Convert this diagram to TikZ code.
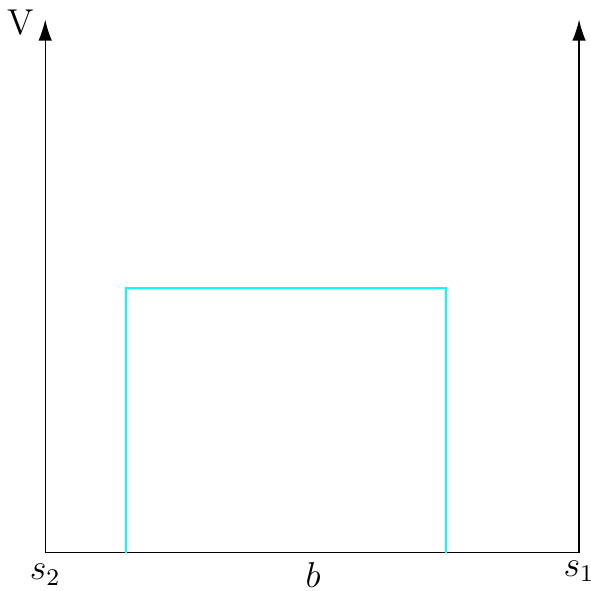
\documentclass[tikz,border=0pt]{standalone}
\usepackage{tikz}
\usetikzlibrary{arrows.meta, positioning}
\definecolor{barrier}{RGB}{0,255,255}
\tikzstyle{axis} = [thin,-{Latex[length=7pt,width=4.5pt]}]
\tikzstyle{box} = [draw=barrier, line width=0.6pt]
\tikzstyle{lab} = [font=\large, inner sep=0pt]

\begin{document}
\begin{tikzpicture}
    \useasboundingbox (-0.53,-0.45) rectangle (6.39,6.48);
    \coordinate (s2) at (0,0);
    \coordinate (s1) at (6.26,0);
    \coordinate (top2) at (0,6.25);
    \coordinate (top1) at (6.26,6.25);

    \draw [axis] (s2) -- (top2);
    \draw [axis] (s1) -- (top1);
    \draw [thin] (s2) -- (s1);

    % barrier
    \draw [box] (0.95,0) -- (0.95,3.107) -- (4.70,3.107) -- (4.70,0);

    \node (vlab) [lab] at (-0.29,6.22) {V};
    \node (s2lab) [lab] at (0,-0.26) {$s_2$};
    \node (s1lab) [lab] at (6.26,-0.22) {$s_1$};
    \node (blab) [lab] at (3.14,-0.26) {$b$};
\end{tikzpicture}
\end{document}
